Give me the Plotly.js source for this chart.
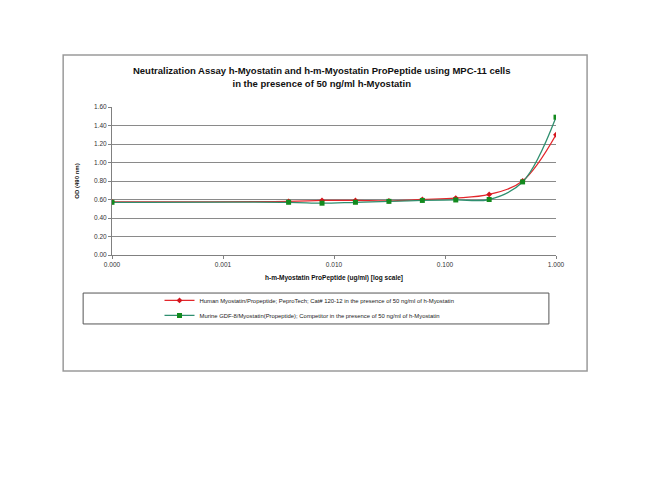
<!DOCTYPE html>
<html>
<head>
<meta charset="utf-8">
<script src="https://cdn.plot.ly/plotly-3.0.1.min.js"></script>
<style>
  html, body { margin: 0; padding: 0; background: #fff; }
  #chart { width: 650px; height: 502px; }
</style>
</head>
<body>
<div id="chart"></div>
<script>
// propeptide concentrations (ug/ml), first one stands for "0"
var conc = [0.0001, 0.0039, 0.0078, 0.0156, 0.03125, 0.0625, 0.125, 0.25, 0.5, 1.0]
var od_human = [0.575, 0.58, 0.59, 0.59, 0.585, 0.60, 0.615, 0.655, 0.80, 1.30]
var od_murine = [0.57, 0.57, 0.56, 0.57, 0.58, 0.59, 0.595, 0.60, 0.79, 1.49]

var xtick_vals = [0.0001, 0.001, 0.01, 0.1, 1]
var xtick_text = ['0.000', '0.001', '0.010', '0.100', '1.000']

var name_human = 'Human Myostatin/Propeptide; PeproTech; Cat# 120-12 in the presence of 50 ng/ml of h-Myostatin'
var name_murine = 'Murine GDF-8/Myostatin(Propeptide); Competitor in the presence of 50 ng/ml of h-Myostatin'

var font = 'Liberation Sans, Arial, sans-serif'

// plot area in pixels: x 112..556, y 107..255
var human = {
	x: conc,
	y: od_human,
	name: name_human,
	mode: 'lines+markers',
	type: 'scatter',
	legend: 'legend',
	line: {color: '#e3262b', width: 1.3, shape: 'spline'},
	marker: {symbol: 'diamond', size: 4.5, color: '#d4141c'},
}

var murine = {
	x: conc,
	y: od_murine,
	name: name_murine,
	mode: 'lines+markers',
	type: 'scatter',
	legend: 'legend2',
	line: {color: '#2f8f6f', width: 1.3, shape: 'spline'},
	marker: {symbol: 'square', size: 5, color: '#138a1e'},
}

// one legend per entry so the row spacing can follow the picture
function legend_at(y) {
	return {
		x: 0.107,
		xanchor: 'left',
		y: y,
		yanchor: 'middle',
		font: {size: 5.9, color: '#222'},
		bgcolor: 'rgba(0,0,0,0)',
		itemwidth: 30,
	}
}

var layout = {
	width: 650,
	height: 502,
	margin: {l: 112, r: 94, t: 107, b: 247},
	paper_bgcolor: '#fff',
	plot_bgcolor: '#fff',
	font: {family: font, size: 6, color: '#333'},
	title: {
		text: '<b>Neutralization Assay h-Myostatin and h-m-Myostatin ProPeptide using MPC-11 cells<br>in the presence of 50 ng/ml h-Myostatin</b>',
		x: 0.495,
		xanchor: 'center',
		y: 0.852,
		yanchor: 'middle',
		font: {family: font, size: 9.5, color: '#111'},
	},
	xaxis: {
		type: 'log',
		range: [-4, 0],
		tickvals: xtick_vals,
		ticktext: xtick_text,
		showgrid: false,
		showline: true,
		linecolor: '#808080',
		linewidth: 1,
		ticks: 'outside',
		ticklen: 3,
		tickcolor: '#808080',
		tickfont: {size: 6.5, color: '#333'},
		zeroline: false,
		title: {text: '<b>h-m-Myostatin ProPeptide (ug/ml) [log scale]</b>', standoff: 8, font: {size: 6.5, color: '#111'}},
	},
	yaxis: {
		range: [0, 1.6],
		dtick: 0.2,
		tickformat: '.2f',
		showgrid: true,
		gridcolor: '#8a8a8a',
		gridwidth: 1,
		showline: true,
		linecolor: '#808080',
		ticks: 'outside',
		ticklen: 3,
		tickcolor: '#808080',
		tickfont: {size: 6.5, color: '#333'},
		zeroline: false,
		title: {text: '<b>OD (490 nm)</b>', standoff: 13, font: {size: 6, color: '#111'}},
	},
	showlegend: true,
	legend: legend_at(-0.307),
	legend2: legend_at(-0.408),
	shapes: [
		// outer chart frame
		{type: 'rect', xref: 'paper', yref: 'paper', x0: -0.110, x1: 1.070, y0: -0.784, y1: 1.351,
		 line: {color: '#9a9a9a', width: 1.5}},
		// legend frame
		{type: 'rect', xref: 'paper', yref: 'paper', x0: -0.065, x1: 0.984, y0: -0.466, y1: -0.257,
		 line: {color: '#555', width: 1}},
	],
}

Plotly.newPlot('chart', [human, murine], layout, {displayModeBar: false, staticPlot: true})
</script>
</body>
</html>
